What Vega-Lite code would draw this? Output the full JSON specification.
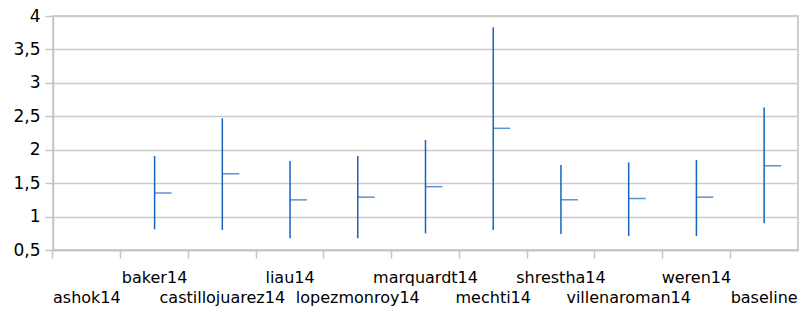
{
  "$schema": "https://vega.github.io/schema/vega-lite/v6.json",
  "width": 745,
  "height": 234,
  "autosize": {"type": "none"},
  "padding": {"left": 53, "top": 16, "right": 5, "bottom": 63},
  "background": "white",
  "config": {
    "view": {"stroke": "#cfcfcf", "strokeWidth": 2},
    "font": "DejaVu Sans"
  },
  "data": {
    "values": [
      {"system": "ashok14", "low": null, "high": null, "close": null},
      {"system": "baker14", "low": 0.81, "high": 1.906, "close": 1.352},
      {"system": "castillojuarez14", "low": 0.80, "high": 2.47, "close": 1.64},
      {"system": "liau14", "low": 0.675, "high": 1.83, "close": 1.25},
      {"system": "lopezmonroy14", "low": 0.675, "high": 1.906, "close": 1.29},
      {"system": "marquardt14", "low": 0.75, "high": 2.145, "close": 1.447},
      {"system": "mechti14", "low": 0.80, "high": 3.83, "close": 2.32},
      {"system": "shrestha14", "low": 0.74, "high": 1.77, "close": 1.25},
      {"system": "villenaroman14", "low": 0.71, "high": 1.81, "close": 1.27},
      {"system": "weren14", "low": 0.71, "high": 1.846, "close": 1.29},
      {"system": "baseline", "low": 0.90, "high": 2.63, "close": 1.76}
    ]
  },
  "encoding": {
    "x": {
      "field": "system",
      "type": "nominal",
      "sort": null,
      "scale": {
        "domain": ["ashok14", "baker14", "castillojuarez14", "liau14", "lopezmonroy14", "marquardt14", "mechti14", "shrestha14", "villenaroman14", "weren14", "baseline"],
        "paddingInner": 0,
        "paddingOuter": 0
      },
      "axis": {
        "title": null,
        "labelAngle": 0,
        "labelFontSize": 16,
        "labelColor": "#000000",
        "labelFont": "DejaVu Sans",
        "bandPosition": 0,
        "labelBaseline": "top",
        "labelPadding": {
          "condition": {
            "test": "indexof(['ashok14','castillojuarez14','lopezmonroy14','mechti14','villenaroman14','baseline'], datum.value) >= 0",
            "value": 31
          },
          "value": 11
        },
        "tickSize": 8,
        "tickColor": "#c4c4c4",
        "tickWidth": 1.5,
        "domainColor": "#c4c4c4",
        "domainWidth": 1.5,
        "grid": false,
        "labelOverlap": false,
        "labelLimit": 0
      }
    }
  },
  "layer": [
    {
      "mark": {"type": "rule", "color": "#1565c0", "strokeWidth": 1.5},
      "encoding": {
        "y": {
          "field": "low",
          "type": "quantitative",
          "scale": {"domain": [0.5, 4], "nice": false, "zero": false},
          "axis": {
            "title": null,
            "values": [0.5, 1, 1.5, 2, 2.5, 3, 3.5, 4],
            "tickCount": 10,
            "format": ".1~f",
            "labelExpr": "replace(datum.label, '.', ',')",
            "labelFontSize": 17,
            "labelColor": "#000000",
            "labelFont": "DejaVu Sans",
            "labelPadding": 5,
            "labelOverlap": false,
            "labelFlush": false,
            "tickSize": 8,
            "tickColor": "#c4c4c4",
            "tickWidth": 1.5,
            "domainColor": "#c4c4c4",
            "domainWidth": 1.5,
            "grid": true,
            "gridColor": "#cccccc",
            "gridWidth": 1.5
          }
        },
        "y2": {"field": "high"}
      }
    },
    {
      "mark": {"type": "tick", "color": "#1565c0", "thickness": 1.5, "size": 17, "xOffset": 8.5, "orient": "horizontal"},
      "encoding": {
        "y": {"field": "close", "type": "quantitative"}
      }
    }
  ]
}
